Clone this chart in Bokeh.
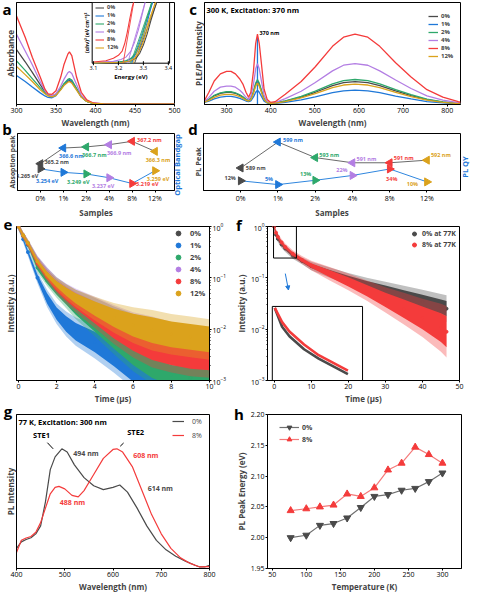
import math
import numpy as np
from bokeh.plotting import figure
from bokeh.layouts import column, row
from bokeh.models import (Range1d, FixedTicker, Label, Legend, LegendItem, LogAxis,
                          LogScale, LinearScale, Arrow, NormalHead, NumeralTickFormatter, Axis, Div)
from bokeh.embed import file_html
from bokeh.resources import INLINE

FONT = "Open Sans"

# ------------------------------------------------------------------ data
samples = ["0%", "1%", "2%", "4%", "8%", "12%"]
colors = ["#4a4a4a", "#1f78d8", "#2ea86b", "#b37ee3", "#f43b3b", "#dba21c"]
panel_letters = ["a", "b", "c", "d", "e", "f", "g", "h"]

# (a) absorbance spectra
abs_wl = [300, 311, 320, 330, 336, 340, 345, 350, 356, 360, 365, 367, 370, 376, 382, 389, 397, 410, 450, 500]
abs_0 = [0.539, 0.419, 0.314, 0.195, 0.126, 0.096, 0.084, 0.100, 0.150, 0.195, 0.230, 0.234, 0.222, 0.150, 0.075, 0.030, 0.012, 0.006, 0.004, 0.003]
abs_1 = [0.284, 0.225, 0.171, 0.114, 0.084, 0.069, 0.066, 0.087, 0.150, 0.195, 0.240, 0.246, 0.231, 0.150, 0.075, 0.030, 0.012, 0.006, 0.004, 0.003]
abs_2 = [0.428, 0.335, 0.254, 0.165, 0.114, 0.090, 0.078, 0.099, 0.156, 0.204, 0.246, 0.254, 0.240, 0.159, 0.078, 0.030, 0.012, 0.006, 0.004, 0.003]
abs_4 = [0.689, 0.524, 0.389, 0.225, 0.135, 0.096, 0.084, 0.105, 0.180, 0.246, 0.311, 0.323, 0.305, 0.195, 0.090, 0.036, 0.015, 0.006, 0.004, 0.003]
abs_8 = [0.868, 0.659, 0.464, 0.269, 0.150, 0.105, 0.100, 0.135, 0.269, 0.389, 0.494, 0.515, 0.479, 0.269, 0.120, 0.045, 0.015, 0.006, 0.004, 0.003]
abs_12 = [0.374, 0.293, 0.225, 0.144, 0.105, 0.084, 0.075, 0.090, 0.144, 0.186, 0.219, 0.225, 0.210, 0.141, 0.072, 0.030, 0.012, 0.006, 0.004, 0.003]

# (a, inset) Tauc plot
tauc_E_0 = [3.10, 3.22, 3.25, 3.27, 3.285, 3.30, 3.315, 3.33, 3.345, 3.355]
tauc_0 = [0.003, 0.015, 0.035, 0.08, 0.16, 0.30, 0.48, 0.70, 0.90, 1.02]
tauc_E_1 = [3.10, 3.205, 3.235, 3.255, 3.27, 3.285, 3.30, 3.315, 3.328, 3.338]
tauc_1 = [0.005, 0.02, 0.04, 0.08, 0.15, 0.27, 0.45, 0.67, 0.88, 1.02]
tauc_E_2 = [3.10, 3.20, 3.23, 3.25, 3.265, 3.28, 3.295, 3.31, 3.325, 3.335]
tauc_2 = [0.005, 0.02, 0.04, 0.08, 0.15, 0.27, 0.45, 0.67, 0.88, 1.02]
tauc_E_4 = [3.10, 3.18, 3.21, 3.23, 3.25, 3.265, 3.28, 3.295, 3.308]
tauc_4 = [0.01, 0.03, 0.06, 0.10, 0.20, 0.35, 0.55, 0.80, 1.02]
tauc_E_8 = [3.10, 3.15, 3.18, 3.20, 3.215, 3.225, 3.235, 3.245, 3.255, 3.262]
tauc_8 = [0.02, 0.04, 0.08, 0.13, 0.20, 0.32, 0.50, 0.72, 0.92, 1.02]
tauc_E_12 = [3.10, 3.215, 3.245, 3.265, 3.28, 3.295, 3.31, 3.325, 3.34, 3.35]
tauc_12 = [0.003, 0.015, 0.035, 0.08, 0.16, 0.30, 0.48, 0.70, 0.90, 1.02]
tauc_ticks = [3.1, 3.2, 3.3, 3.4]

# (b) absorption peak / optical band gap
abs_peak_nm = [365.2, 366.6, 366.7, 366.9, 367.2, 366.3]
bandgap_eV = [3.265, 3.254, 3.249, 3.237, 3.219, 3.259]

# (c) PLE / PL spectra at 300 K
ple_wl = [250, 260, 272, 286, 300, 310, 320, 330, 337, 344, 350, 355, 361, 366, 370, 374, 379, 385, 392, 400]
ple_0 = [0.025, 0.048, 0.085, 0.11, 0.12, 0.12, 0.11, 0.09, 0.072, 0.048, 0.038, 0.052, 0.12, 0.20, 0.23, 0.20, 0.13, 0.052, 0.02, 0.012]
ple_1 = [0.02, 0.032, 0.055, 0.073, 0.08, 0.08, 0.073, 0.06, 0.048, 0.034, 0.028, 0.035, 0.075, 0.12, 0.14, 0.12, 0.08, 0.033, 0.014, 0.01]
ple_2 = [0.025, 0.05, 0.09, 0.115, 0.125, 0.125, 0.115, 0.095, 0.075, 0.05, 0.04, 0.055, 0.13, 0.21, 0.245, 0.21, 0.14, 0.055, 0.02, 0.012]
ple_4 = [0.03, 0.07, 0.13, 0.17, 0.18, 0.18, 0.17, 0.14, 0.11, 0.07, 0.05, 0.08, 0.20, 0.35, 0.40, 0.35, 0.23, 0.09, 0.03, 0.015]
ple_8 = [0.04, 0.12, 0.23, 0.30, 0.325, 0.325, 0.30, 0.25, 0.20, 0.12, 0.07, 0.12, 0.33, 0.60, 0.69, 0.60, 0.40, 0.15, 0.05, 0.02]
ple_12 = [0.022, 0.04, 0.07, 0.092, 0.10, 0.10, 0.092, 0.076, 0.06, 0.042, 0.034, 0.047, 0.11, 0.18, 0.21, 0.18, 0.12, 0.048, 0.018, 0.011]
pl_wl = [410, 433, 469, 501, 540, 565, 591, 620, 647, 683, 718, 754, 790, 825, 830]
pl_0 = [0.015, 0.033, 0.073, 0.12, 0.185, 0.214, 0.224, 0.214, 0.185, 0.133, 0.088, 0.047, 0.023, 0.01, 0.008]
pl_1 = [0.012, 0.02, 0.046, 0.075, 0.116, 0.134, 0.14, 0.134, 0.116, 0.083, 0.055, 0.029, 0.015, 0.006, 0.005]
pl_2 = [0.015, 0.036, 0.08, 0.131, 0.203, 0.235, 0.245, 0.235, 0.203, 0.146, 0.096, 0.052, 0.026, 0.011, 0.009]
pl_4 = [0.018, 0.058, 0.13, 0.215, 0.33, 0.385, 0.40, 0.385, 0.33, 0.24, 0.157, 0.084, 0.042, 0.017, 0.014]
pl_8 = [0.027, 0.10, 0.225, 0.37, 0.57, 0.66, 0.69, 0.66, 0.57, 0.41, 0.27, 0.145, 0.072, 0.027, 0.022]
pl_12 = [0.014, 0.029, 0.065, 0.107, 0.165, 0.191, 0.20, 0.191, 0.165, 0.119, 0.078, 0.042, 0.021, 0.009, 0.007]
excitation_spike_1 = [(370, 0.66), (370, 0.0), (370, 0.14)]   # scattered-light spike in the 1% PLE trace
excitation_nm = 370

# (d) PL peak / PL QY
pl_peak_nm = [589, 599, 593, 591, 591, 592]
pl_qy = [12, 5, 13, 22, 34, 10]

# (e) PL decay at 300 K (centre of cloud and half-width in decades)
time_e = [0, 0.25, 0.5, 1, 1.5, 2, 2.5, 3, 4, 5, 6, 7, 8, 9, 10]
decay_e_0 = [1.0, 0.676, 0.479, 0.219, 0.126, 0.0794, 0.055, 0.0398, 0.024, 0.0141, 0.00891, 0.00631, 0.00501, 0.00398, 0.00355]
decay_e_1 = [1.0, 0.562, 0.316, 0.1, 0.0398, 0.02, 0.0126, 0.00891, 0.00562, 0.00316, 0.00158, 0.00112, 0.001, 0.00089, 0.00079]
decay_e_2 = [1.0, 0.646, 0.437, 0.158, 0.0891, 0.0562, 0.038, 0.0251, 0.0126, 0.00631, 0.00316, 0.00178, 0.00126, 0.00112, 0.001]
decay_e_4 = [1.0, 0.676, 0.479, 0.224, 0.129, 0.0794, 0.0562, 0.0417, 0.0251, 0.0151, 0.00955, 0.00708, 0.00562, 0.00479, 0.00398]
decay_e_8 = [1.0, 0.661, 0.457, 0.191, 0.105, 0.0631, 0.0437, 0.0316, 0.0178, 0.01, 0.00631, 0.00447, 0.00355, 0.00302, 0.00282]
decay_e_12 = [1.0, 0.676, 0.479, 0.209, 0.117, 0.0759, 0.0537, 0.0398, 0.0251, 0.0166, 0.012, 0.00955, 0.00794, 0.00708, 0.00631]
spread_e = [0.03, 0.03, 0.03, 0.04, 0.05, 0.06, 0.08, 0.10, 0.14, 0.18, 0.22, 0.25, 0.25, 0.25, 0.25]
spread_e_1 = [0.03, 0.03, 0.04, 0.06, 0.10, 0.12, 0.15, 0.17, 0.20, 0.22, 0.22, 0.20, 0.20, 0.20, 0.20]
spread_e_2 = [0.03, 0.03, 0.03, 0.05, 0.06, 0.08, 0.10, 0.12, 0.15, 0.18, 0.20, 0.20, 0.20, 0.20, 0.20]

# (f) PL decay at 77 K
time_f = [0, 0.5, 1, 2, 3, 5, 7.5, 10, 15, 20, 25, 30, 35, 40, 45, 46.5]
decay_f_0 = [1.0, 0.692, 0.575, 0.447, 0.372, 0.275, 0.214, 0.17, 0.126, 0.0955, 0.0741, 0.0575, 0.0447, 0.0347, 0.0275, 0.0251]
decay_f_8 = [1.0, 0.759, 0.631, 0.49, 0.398, 0.295, 0.224, 0.174, 0.12, 0.0832, 0.0562, 0.0372, 0.0251, 0.0166, 0.0107, 0.0089]
spread_f_0 = [0.03, 0.03, 0.03, 0.03, 0.03, 0.03, 0.03, 0.04, 0.05, 0.06, 0.07, 0.09, 0.11, 0.13, 0.14, 0.15]
spread_f_8 = [0.03, 0.03, 0.03, 0.03, 0.03, 0.03, 0.035, 0.045, 0.07, 0.09, 0.11, 0.14, 0.18, 0.22, 0.28, 0.30]
f_labels = ["0% at 77K", "8% at 77K"]
zoom_region_f = (-0.17, 6.0, 0.243, 1.03)   # t0, t1, I0, I1 shown in the inset

# (g) PL spectra at 77 K
g_wl_0 = [400, 410, 420, 430, 440, 450, 460, 470, 480, 494, 505, 520, 540, 560, 580, 600, 614, 630, 650, 670, 690, 710, 730, 750, 770, 780, 790, 800]
g_0 = [0.131, 0.173, 0.188, 0.2, 0.225, 0.277, 0.433, 0.642, 0.725, 0.777, 0.756, 0.673, 0.59, 0.537, 0.512, 0.527, 0.542, 0.496, 0.392, 0.277, 0.183, 0.121, 0.079, 0.048, 0.021, 0.01, 0.01, 0.021]
g_wl_8 = [400, 405, 410, 420, 430, 440, 450, 460, 470, 480, 488, 500, 515, 528, 540, 560, 580, 600, 608, 620, 640, 660, 680, 700, 720, 740, 760, 780, 800]
g_8 = [0.104, 0.142, 0.183, 0.198, 0.208, 0.235, 0.298, 0.392, 0.485, 0.527, 0.533, 0.517, 0.475, 0.465, 0.506, 0.61, 0.715, 0.773, 0.777, 0.756, 0.662, 0.506, 0.35, 0.225, 0.131, 0.069, 0.033, 0.01, 0.0125]
g_samples = ["0%", "8%"]

# (h) PL peak energy vs temperature
temps = [77, 100, 120, 140, 160, 180, 200, 220, 240, 260, 280, 300]
h_0 = [2.000, 2.004, 2.020, 2.023, 2.032, 2.049, 2.067, 2.070, 2.077, 2.080, 2.091, 2.105]
h_8 = [2.044, 2.047, 2.050, 2.053, 2.071, 2.067, 2.081, 2.110, 2.121, 2.147, 2.135, 2.121]

# ------------------------------------------------------------------ helpers
def make_fig(w, h, borders, xr, yr, y_type="linear", y_loc="left"):
    bl, br, bt, bb = borders
    p = figure(width=w, height=h, x_range=xr, y_range=yr, y_axis_type=y_type,
               y_axis_location=y_loc, output_backend="svg", toolbar_location=None,
               min_border_left=bl, min_border_right=br, min_border_top=bt, min_border_bottom=bb)
    p.xgrid.visible = False
    p.ygrid.visible = False
    p.outline_line_color = "black"
    p.outline_line_alpha = 1.0
    p.outline_line_width = 1
    p.background_fill_color = "white"
    p.border_fill_alpha = 0
    return p


def style_axes(p):
    for ax in list(p.left) + list(p.right) + list(p.below) + list(p.above):
        if isinstance(ax, Axis):
            ax.axis_line_color = "black"
            ax.axis_line_width = 1
            ax.major_tick_in = 0
            ax.major_tick_out = 2
            ax.minor_tick_in = 0
            ax.minor_tick_out = 0
            ax.major_tick_line_color = "black"
            ax.major_label_text_font = FONT
            ax.major_label_text_font_size = "7px"
            ax.major_label_text_color = "black"
            ax.major_label_standoff = 1
            ax.axis_label_text_font = FONT
            ax.axis_label_text_font_size = "8px"
            ax.axis_label_text_font_style = "bold"
            ax.axis_label_standoff = 1


def lab(p, text, x, y, xu="data", yu="data", dx=0, dy=0, size="6px", color="black",
        bold=True, align="left", base="middle", angle=0.0, xr=None, yr=None):
    kw = {}
    if xr:
        kw["x_range_name"] = xr
    if yr:
        kw["y_range_name"] = yr
    p.add_layout(Label(x=x, y=y, x_units=xu, y_units=yu, x_offset=dx, y_offset=dy, text=text,
                       text_font=FONT, text_font_size=size, text_color=color,
                       text_font_style="bold" if bold else "normal", text_align=align,
                       text_baseline=base, angle=angle, **kw))


def add_legend(p, items, loc, size="6.5px", bold=True, gw=10, gh=8, lh=8, standoff=3):
    lg = Legend(items=items, location=loc, orientation="vertical",
                background_fill_alpha=0, border_line_alpha=0,
                label_text_font=FONT, label_text_font_size=size,
                label_text_font_style="bold" if bold else "normal",
                glyph_width=gw, glyph_height=gh, label_height=lh, spacing=0,
                padding=0, margin=0, label_standoff=standoff)
    p.add_layout(lg)


def frac_range(lo, hi, f0, f1):
    span = (hi - lo) / (f1 - f0)
    return lo - f0 * span, hi + (1 - f1) * span


def band(center, spread, widen=1.0, extra=0.0):
    c = np.array(center, dtype=float)
    s = np.array(spread, dtype=float) * widen + extra
    return c / 10 ** s, c * 10 ** s


def overlay_text(text, x, y, size="15px", color="black", rotate=False, w=12, h=18):
    st = {"position": "absolute", "left": f"{x}px", "top": f"{y}px",
          "font-family": FONT, "font-weight": "bold", "font-size": size,
          "line-height": "1.15", "z-index": "10", "margin": "0", "padding": "0",
          "color": color, "white-space": "nowrap", "text-align": "center",
          "overflow": "visible"}
    if rotate:
        st["transform"] = "rotate(-90deg)"
    return Div(text=text, width=w, height=h, styles=st)


# ------------------------------------------------------------------ (a)
pa = make_fig(189, 130, (16, 15, 2, 24), Range1d(300, 500), Range1d(0, 1))
for ys, c in zip([abs_0, abs_1, abs_2, abs_4, abs_8, abs_12], colors):
    pa.line(abs_wl, ys, line_color=c, line_width=1.3)
pa.xaxis.ticker = FixedTicker(ticks=[300, 350, 400, 450, 500])
pa.xaxis.axis_label = "Wavelength (nm)"
pa.yaxis.ticker = FixedTicker(ticks=[])
pa.yaxis.axis_label = "Absorbance"

ia_f = (0.479, 0.969, 0.405, 1.0)
ia_E = (3.095, 3.405)
ia_Y = (0.0, 1.0)
pa.extra_x_ranges = {"ie": Range1d(*frac_range(ia_E[0], ia_E[1], ia_f[0], ia_f[1]))}
pa.extra_y_ranges = {"iy": Range1d(*frac_range(ia_Y[0], ia_Y[1], ia_f[2], ia_f[3]))}
pa.quad(left=[ia_E[0]], right=[ia_E[1]], bottom=[ia_Y[0]], top=[ia_Y[1]],
        x_range_name="ie", y_range_name="iy", fill_color="white", line_color="black", line_width=1)
inset_items = []
for i, (E, V, c) in enumerate(zip([tauc_E_0, tauc_E_1, tauc_E_2, tauc_E_4, tauc_E_8, tauc_E_12],
                                  [tauc_0, tauc_1, tauc_2, tauc_4, tauc_8, tauc_12], colors)):
    r = pa.line(E, V, line_color=c, line_width=1.1, x_range_name="ie", y_range_name="iy")
    pa.line([bandgap_eV[i], E[-1]], [ia_Y[0], V[-1]], line_color=c, line_width=0.9,
            x_range_name="ie", y_range_name="iy")
    inset_items.append(LegendItem(label=samples[i], renderers=[r]))
pa.scatter(tauc_ticks, [ia_Y[0]] * len(tauc_ticks), marker="dash", angle=math.pi / 2, size=4,
           line_color="black", x_range_name="ie", y_range_name="iy")
for t in tauc_ticks:
    lab(pa, f"{t:.1f}", t, ia_Y[0], dy=-3, size="5.5px", bold=False, align="center", base="top",
        xr="ie", yr="iy")
lab(pa, "Energy (eV)", sum(ia_E) / 2, ia_Y[0], dy=-10, size="6px", bold=True, align="center",
    base="top", xr="ie", yr="iy")
lab(pa, "(αhν)² (eV cm⁻¹)²", ia_E[0], sum(ia_Y) / 2, dx=-2, size="5px", bold=True, align="center",
    base="bottom", angle=math.pi / 2, xr="ie", yr="iy")
add_legend(pa, inset_items, (79, 53), size="5.5px", gw=9, gh=7, lh=7)
style_axes(pa)

# ------------------------------------------------------------------ (c)
pc = make_fig(282, 130, (12, 11, 2, 24), Range1d(250, 830), Range1d(0, 1))
c_items = []
ple_all = [ple_0, ple_1, ple_2, ple_4, ple_8, ple_12]
pl_all = [pl_0, pl_1, pl_2, pl_4, pl_8, pl_12]
for i, c in enumerate(colors):
    xs = list(ple_wl) + list(pl_wl)
    ys = list(ple_all[i]) + list(pl_all[i])
    if samples[i] == "1%":
        k = ple_wl.index(excitation_nm) + 1
        xs = xs[:k] + [s[0] for s in excitation_spike_1] + xs[k:]
        ys = ys[:k] + [s[1] for s in excitation_spike_1] + ys[k:]
    r = pc.line(xs, ys, line_color=c, line_width=1.3)
    c_items.append(LegendItem(label=samples[i], renderers=[r]))
pc.xaxis.ticker = FixedTicker(ticks=[300, 400, 500, 600, 700, 800])
pc.xaxis.axis_label = "Wavelength (nm)"
pc.yaxis.ticker = FixedTicker(ticks=[])
pc.yaxis.axis_label = "PLE/PL Intensity"
lab(pc, "300 K, Excitation: 370 nm", 2, 1, xu="screen", dy=-2, size="7.5px", base="top")
lab(pc, f"{excitation_nm} nm", excitation_nm, max(ple_8), dx=2, dy=1, size="5.5px", base="middle")
add_legend(pc, c_items, (224, 44), size="6px", gw=10, gh=8, lh=8)
style_axes(pc)

# ------------------------------------------------------------------ (b)
xs_idx = list(range(len(samples)))
pb = make_fig(189, 90, (17, 15, 3, 22), Range1d(-1, 5.85), Range1d(362.8, 367.9))
pb.extra_y_ranges = {"eV": Range1d(3.197, 3.376)}
pb.line(xs_idx, abs_peak_nm, line_color="#6a6a6a", line_width=1)
pb.line(xs_idx, bandgap_eV, line_color="#2f86de", line_width=1, y_range_name="eV")
pb.scatter(xs_idx, abs_peak_nm, marker="triangle", angle=math.pi / 2, size=8,
           fill_color=colors, line_color=colors)
pb.scatter(xs_idx, bandgap_eV, marker="triangle", angle=-math.pi / 2, size=8,
           fill_color=colors, line_color=colors, y_range_name="eV")
b_top = [(4, 2, "left", "middle"), (8, -4, "center", "top"), (8, -4, "center", "top"),
         (10, -4, "center", "top"), (5, 1, "left", "middle"), (3, -5, "center", "top")]
b_bot = [(-2, -3, "right", "top"), (-5, -5, "right", "top"), (-8, -4, "center", "top"),
         (-6, -4, "center", "top"), (4, -1, "left", "middle"), (3, -4, "center", "top")]
for i in xs_idx:
    dx, dy, al, bs = b_top[i]
    lab(pb, f"{abs_peak_nm[i]:.1f} nm", i, abs_peak_nm[i], dx=dx, dy=dy, size="5.5px",
        color=colors[i], align=al, base=bs)
    dx, dy, al, bs = b_bot[i]
    lab(pb, f"{bandgap_eV[i]:.3f} eV", i, bandgap_eV[i], dx=dx, dy=dy, size="5.5px",
        color=colors[i], align=al, base=bs, yr="eV")
pb.xaxis.ticker = FixedTicker(ticks=xs_idx)
pb.xaxis.major_label_overrides = {i: s for i, s in enumerate(samples)}
pb.xaxis.axis_label = "Samples"
pb.yaxis.ticker = FixedTicker(ticks=[])
pb.yaxis.axis_label = "Absoption peak"
style_axes(pb)
pb.yaxis.axis_label_text_font_size = "6.8px"

# ------------------------------------------------------------------ (d)
pd_ = make_fig(282, 90, (11, 11, 3, 22), Range1d(-1, 5.9), Range1d(580.3, 602.3))
pd_.extra_y_ranges = {"qy": Range1d(-6, 100)}
pd_.line(xs_idx, pl_peak_nm, line_color="#6a6a6a", line_width=1)
pd_.line(xs_idx, pl_qy, line_color="#2f86de", line_width=1, y_range_name="qy")
pd_.scatter(xs_idx, pl_peak_nm, marker="triangle", angle=math.pi / 2, size=8,
            fill_color=colors, line_color=colors)
pd_.scatter(xs_idx, pl_qy, marker="triangle", angle=-math.pi / 2, size=8,
            fill_color=colors, line_color=colors, y_range_name="qy")
d_top = [(5, 0), (5, 2), (4, 3), (4, 4), (4, 5), (4, 5)]
d_bot = [(-5, 3, "right", "middle"), (-5, 6, "right", "middle"), (-4, 6, "right", "middle"),
         (-5, 5, "right", "middle"), (2, -6, "center", "top"), (-9, -2, "right", "middle")]
for i in xs_idx:
    dx, dy = d_top[i]
    lab(pd_, f"{pl_peak_nm[i]} nm", i, pl_peak_nm[i], dx=dx, dy=dy, size="5.5px",
        color=colors[i], align="left", base="middle")
    dx, dy, al, bs = d_bot[i]
    lab(pd_, f"{pl_qy[i]}%", i, pl_qy[i], dx=dx, dy=dy, size="5.5px", color=colors[i],
        align=al, base=bs, yr="qy")
pd_.xaxis.ticker = FixedTicker(ticks=xs_idx)
pd_.xaxis.major_label_overrides = {i: s for i, s in enumerate(samples)}
pd_.xaxis.axis_label = "Samples"
pd_.yaxis.ticker = FixedTicker(ticks=[])
pd_.yaxis.axis_label = "PL Peak"
style_axes(pd_)
pd_.yaxis.axis_label_text_font_size = "7.5px"

# ------------------------------------------------------------------ (e)
pe = make_fig(232, 190, (16, 23, 5, 30), Range1d(-0.1, 10), Range1d(1e-3, 1),
              y_type="log", y_loc="right")
pe.add_layout(LogAxis(ticker=FixedTicker(ticks=[]), axis_label="Intensity (a.u.)"), "left")
e_items = []
e_decays = [decay_e_0, decay_e_1, decay_e_2, decay_e_4, decay_e_8, decay_e_12]
e_spreads = [spread_e, spread_e_1, spread_e_2, spread_e, spread_e, spread_e]
for i, c in enumerate(colors):
    lo2, hi2 = band(e_decays[i], e_spreads[i], widen=1.5, extra=0.02)
    pe.varea(x=time_e, y1=lo2, y2=hi2, fill_color=c, fill_alpha=0.35)
    lo, hi = band(e_decays[i], e_spreads[i])
    pe.varea(x=time_e, y1=lo, y2=hi, fill_color=c, fill_alpha=1.0)
    r = pe.scatter(time_e, e_decays[i], marker="circle", size=3, fill_color=c, line_color=c)
    e_items.append(LegendItem(label=samples[i], renderers=[r]))
pe.xaxis.ticker = FixedTicker(ticks=[0, 2, 4, 6, 8, 10])
pe.xaxis.axis_label = "Time (μs)"
add_legend(pe, e_items, (156, 81), size="7.5px", bold=True, gw=12, gh=12, lh=12, standoff=6)
style_axes(pe)
for ax in pe.right:
    ax.minor_tick_out = 1

# ------------------------------------------------------------------ (f)
pf = make_fig(239, 190, (32, 12, 6, 30), Range1d(-1.8, 50), Range1d(1e-3, 1), y_type="log")
f_decays = [decay_f_0, decay_f_8]
f_spreads = [spread_f_0, spread_f_8]
f_colors = [colors[0], colors[4]]
f_items = []
for i in range(2):
    lo2, hi2 = band(f_decays[i], f_spreads[i], widen=1.6, extra=0.02)
    pf.varea(x=time_f, y1=lo2, y2=hi2, fill_color=f_colors[i], fill_alpha=0.35)
    lo, hi = band(f_decays[i], f_spreads[i])
    pf.varea(x=time_f, y1=lo, y2=hi, fill_color=f_colors[i], fill_alpha=1.0)
    r = pf.scatter(time_f, f_decays[i], marker="circle", size=3, fill_color=f_colors[i],
                   line_color=f_colors[i])
    f_items.append(LegendItem(label=f_labels[i], renderers=[r]))
t0, t1, i0, i1 = zoom_region_f
pf.quad(left=[t0], right=[t1], bottom=[i0], top=[i1], fill_alpha=0, line_color="black", line_width=1)
if_f = (0.025, 0.495, 0.0, 0.481)
pf.extra_x_ranges = {"ix": Range1d(*frac_range(t0, t1, if_f[0], if_f[1]))}
ly0, ly1 = frac_range(math.log10(i0), math.log10(i1), if_f[2], if_f[3])
pf.extra_y_ranges = {"iy": Range1d(10 ** ly0, 10 ** ly1)}
pf.extra_x_scales = {"ix": LinearScale()}
pf.extra_y_scales = {"iy": LogScale()}
pf.quad(left=[t0], right=[t1], bottom=[i0], top=[i1], fill_color="white", line_color="black",
        line_width=1, x_range_name="ix", y_range_name="iy")
for i in range(2):
    tt = [t for t in time_f if t <= t1]
    vv = f_decays[i][:len(tt)]
    pf.line(tt, vv, line_color=f_colors[i], line_width=2.6, x_range_name="ix", y_range_name="iy")
pf.add_layout(Arrow(end=NormalHead(size=4, line_color="#1f78d8", fill_color="#1f78d8"),
                    x_start=3.0, y_start=0.121, x_end=3.85, y_end=0.058,
                    line_color="#1f78d8", line_width=1))
pf.xaxis.ticker = FixedTicker(ticks=[0, 10, 20, 30, 40, 50])
pf.xaxis.axis_label = "Time (μs)"
pf.yaxis.axis_label = "Intensity (a.u.)"
add_legend(pf, f_items, (142, 130), size="7px", bold=True, gw=10, gh=11, lh=11, standoff=3)
style_axes(pf)
for ax in pf.left:
    ax.minor_tick_out = 1

# ------------------------------------------------------------------ (g)
pg = make_fig(232, 185, (16, 23, 3, 27), Range1d(400, 800), Range1d(0, 1))
r0 = pg.line(g_wl_0, g_0, line_color="#4a4a4a", line_width=1.2)
r8 = pg.line(g_wl_8, g_8, line_color="#f43b3b", line_width=1.2)
pg.xaxis.ticker = FixedTicker(ticks=[400, 500, 600, 700, 800])
pg.xaxis.axis_label = "Wavelength (nm)"
pg.yaxis.ticker = FixedTicker(ticks=[])
pg.yaxis.axis_label = "PL Intensity"
lab(pg, "77 K, Excitation: 300 nm", 2, 1, xu="screen", dy=-2, size="7.5px", base="top")
lab(pg, "STE1", 452, 0.867, size="7.5px", align="center")
lab(pg, "STE2", 647, 0.8875, size="7.5px", align="center")
pg.line([464, 476], [0.817, 0.777], line_color="black", line_width=1)
pg.line([622, 615], [0.815, 0.794], line_color="black", line_width=1)
lab(pg, "494 nm", 544, 0.746, size="7px", color="#4a4a4a", align="center")
lab(pg, "608 nm", 668, 0.735, size="7px", color="#f43b3b", align="center")
lab(pg, "614 nm", 698, 0.521, size="7px", color="#4a4a4a", align="center")
lab(pg, "488 nm", 516, 0.427, size="7px", color="#f43b3b", align="center")
add_legend(pg, [LegendItem(label=g_samples[0], renderers=[r0]),
                LegendItem(label=g_samples[1], renderers=[r8])],
           (156, 126), size="7px", bold=False, gw=12, gh=14, lh=14, standoff=8)
style_axes(pg)

# ------------------------------------------------------------------ (h)
ph = make_fig(239, 185, (32, 10, 4, 27), Range1d(43, 328), Range1d(1.95, 2.20))
l0 = ph.line(temps, h_0, line_color="#707070", line_width=1.2)
m0 = ph.scatter(temps, h_0, marker="inverted_triangle", size=7, fill_color="#4a4a4a",
                line_color="#4a4a4a")
l8 = ph.line(temps, h_8, line_color="#f47a7a", line_width=1.2)
m8 = ph.scatter(temps, h_8, marker="triangle", size=7, fill_color="#f43b3b", line_color="#f43b3b")
ph.xaxis.ticker = FixedTicker(ticks=[50, 100, 150, 200, 250, 300])
ph.yaxis.ticker = FixedTicker(ticks=[1.95, 2.00, 2.05, 2.10, 2.15, 2.20])
ph.yaxis.formatter = NumeralTickFormatter(format="0.00")
ph.xaxis.axis_label = "Temperature (K)"
ph.yaxis.axis_label = "PL Peak Energy (eV)"
add_legend(ph, [LegendItem(label=g_samples[0], renderers=[l0, m0]),
                LegendItem(label=g_samples[1], renderers=[l8, m8])],
           (12, 123), size="7px", bold=True, gw=20, gh=12, lh=12, standoff=3)
style_axes(ph)

# ------------------------------------------------------------------ overlaid texts
letter_pos = {"a": (1, 1), "c": (187, 1), "b": (1, 121), "d": (187, 121),
              "e": (2, 216), "f": (233, 217), "g": (2, 403), "h": (233, 406)}
overlays = [overlay_text(t, *letter_pos[t]) for t in panel_letters]
# right-hand axis titles of (b) and (d), reading bottom-to-top
overlays.append(overlay_text("Optical Bandgap", 178 - 35, 165 - 5, size="7.5px",
                             color="#1f78d8", rotate=True, w=70, h=10))
overlays.append(overlay_text("PL QY", 466 - 15, 167 - 5, size="7.5px",
                             color="#1f78d8", rotate=True, w=30, h=10))

layout = column(row(pa, pc, spacing=0), row(pb, pd_, spacing=0),
                row(pe, pf, spacing=0), row(pg, ph, spacing=0), *overlays,
                spacing=0, styles={"position": "relative"})

open("out.html", "w").write(file_html(layout, INLINE))
